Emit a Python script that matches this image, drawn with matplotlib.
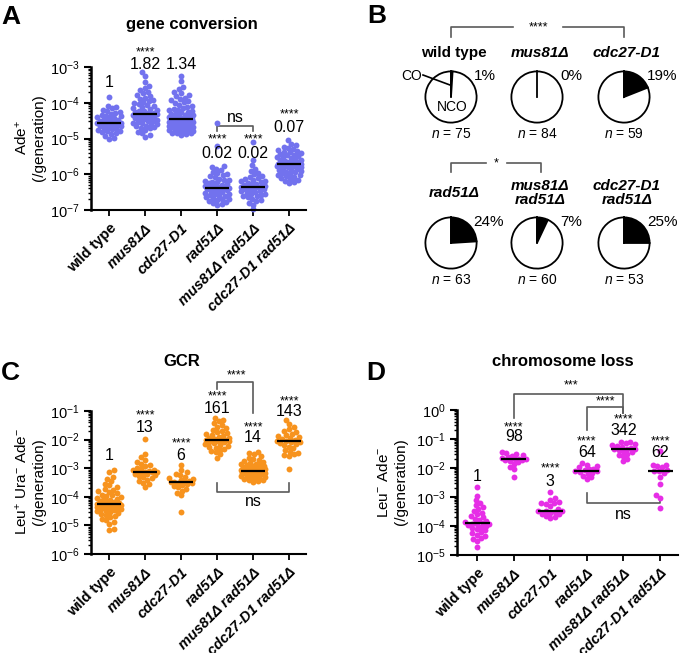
import numpy as np
import matplotlib
matplotlib.use('Agg')
import matplotlib.pyplot as plt
from matplotlib.ticker import LogLocator, FuncFormatter, NullFormatter, FixedLocator

plt.rcParams.update({
    'font.family': ['Liberation Sans', 'DejaVu Sans'],
    'mathtext.fontset': 'custom',
    'mathtext.rm': 'Liberation Sans',
    'mathtext.it': 'Liberation Sans:italic',
    'mathtext.bf': 'Liberation Sans:bold',
    'mathtext.default': 'regular',
})

# ---------------- data ----------------
categories = ['wild type', 'mus81Δ', 'cdc27-D1', 'rad51Δ', 'mus81Δ rad51Δ', 'cdc27-D1 rad51Δ']

# Panel A: gene conversion, log10(Ade+ / generation)
geneconv_wt = [-5.00,-4.98,-4.92,-4.88,-4.85,-4.82,-4.80,-4.78,-4.76,-4.74,-4.72,-4.70,-4.68,-4.66,-4.65,-4.63,-4.62,-4.60,-4.59,-4.58,-4.57,-4.56,-4.55,-4.53,-4.52,-4.50,-4.48,-4.46,-4.44,-4.42,-4.40,-4.38,-4.36,-4.34,-4.31,-4.28,-4.25,-4.22,-4.19,-4.16,-4.12,-4.08,-3.84]
geneconv_mus81 = [-4.96,-4.90,-4.86,-4.82,-4.76,-4.72,-4.70,-4.68,-4.65,-4.64,-4.62,-4.60,-4.58,-4.56,-4.54,-4.52,-4.50,-4.48,-4.46,-4.44,-4.42,-4.40,-4.38,-4.37,-4.35,-4.34,-4.33,-4.32,-4.31,-4.30,-4.28,-4.26,-4.24,-4.22,-4.20,-4.18,-4.16,-4.13,-4.10,-4.07,-4.04,-4.01,-3.98,-3.95,-3.92,-3.89,-3.86,-3.82,-3.78,-3.74,-3.70,-3.65,-3.60,-3.52,-3.42,-3.25,-3.15]
geneconv_cdc27 = [-4.90,-4.88,-4.86,-4.85,-4.84,-4.82,-4.81,-4.80,-4.78,-4.77,-4.76,-4.74,-4.73,-4.72,-4.70,-4.69,-4.68,-4.66,-4.65,-4.64,-4.62,-4.61,-4.60,-4.58,-4.57,-4.56,-4.55,-4.54,-4.53,-4.52,-4.51,-4.50,-4.49,-4.48,-4.47,
                  -4.45,-4.44,-4.42,-4.41,-4.40,-4.38,-4.36,-4.35,-4.33,-4.31,-4.29,-4.27,-4.25,-4.23,-4.21,-4.19,-4.17,-4.14,-4.11,-4.08,-4.05,-4.02,-3.99,-3.96,-3.93,-3.90,-3.86,-3.82,-3.78,-3.74,-3.70,-3.62,-3.55,-3.38,-3.25]
geneconv_rad51 = [-6.87,-6.84,-6.80,-6.78,-6.75,-6.72,-6.70,-6.68,-6.66,-6.64,-6.62,-6.60,-6.58,-6.56,-6.54,-6.52,-6.50,-6.48,-6.46,-6.44,-6.42,-6.41,-6.40,-6.39,-6.38,-6.37,-6.35,-6.33,-6.31,-6.29,-6.27,-6.25,-6.23,-6.21,-6.19,-6.17,-6.15,-6.12,-6.09,-6.06,-6.03,-6.00,-5.97,-5.93,-5.88,-5.84,-5.80,-5.78,-5.20,-4.57]
geneconv_mus81_rad51 = [-6.98,-6.85,-6.80,-6.75,-6.71,-6.68,-6.65,-6.62,-6.60,-6.58,-6.56,-6.54,-6.52,-6.50,-6.48,-6.46,-6.44,-6.42,-6.40,-6.38,-6.37,-6.36,-6.35,-6.34,-6.32,-6.30,-6.28,-6.26,-6.24,-6.22,-6.20,-6.18,-6.16,-6.13,-6.10,-6.07,-6.04,-6.00,-5.96,-5.90,-5.84,-5.74,-5.60,-5.10]
geneconv_cdc27_rad51 = [-6.25,-6.22,-6.18,-6.15,-6.12,-6.10,-6.08,-6.05,-6.03,-6.01,-5.99,-5.97,-5.95,-5.93,-5.91,-5.89,-5.87,-5.85,-5.83,-5.81,-5.80,-5.78,-5.77,-5.76,-5.75,-5.74,-5.73,-5.72,-5.71,-5.70,-5.69,-5.68,-5.67,-5.66,-5.65,-5.63,-5.61,-5.59,-5.57,-5.55,-5.53,-5.51,-5.49,-5.47,-5.45,-5.43,-5.41,-5.39,-5.37,-5.35,-5.32,-5.29,-5.26,-5.23,-5.19,-5.15,-5.04]
geneconv_ratio = ['1', '1.82', '1.34', '0.02', '0.02', '0.07']
geneconv_stars = ['', '****', '', '****', '****', '****']

# Panel C: GCR, log10(Leu+ Ura- Ade- / generation)
gcr_wt = [-5.16,-5.12,-4.95,-4.88,-4.82,-4.76,-4.72,-4.68,-4.64,-4.60,-4.57,-4.54,-4.51,-4.48,-4.46,-4.44,-4.42,-4.40,-4.38,-4.36,-4.34,-4.32,-4.30,-4.28,-4.27,-4.26,-4.25,-4.24,-4.22,-4.20,-4.18,-4.16,-4.14,-4.12,-4.10,-4.07,-4.04,-4.01,-3.98,-3.95,-3.92,-3.88,-3.84,-3.80,-3.76,-3.72,-3.66,-3.60,-3.54,-3.45,-3.38,-3.30,-3.12,-3.06]
gcr_mus81 = [-3.65,-3.55,-3.50,-3.45,-3.40,-3.36,-3.32,-3.28,-3.25,-3.22,-3.19,-3.17,-3.15,-3.14,-3.13,-3.12,-3.10,-3.08,-3.05,-3.02,-2.98,-2.94,-2.90,-2.85,-2.80,-2.72,-2.62,-2.50,-1.98]
gcr_cdc27 = [-4.53,-3.95,-3.85,-3.78,-3.72,-3.66,-3.62,-3.58,-3.55,-3.52,-3.50,-3.49,-3.48,-3.46,-3.44,-3.41,-3.38,-3.34,-3.30,-3.25,-3.20,-3.15,-3.08,-2.90]
gcr_rad51 = [-2.65,-2.52,-2.45,-2.40,-2.36,-2.32,-2.28,-2.25,-2.22,-2.19,-2.16,-2.13,-2.10,-2.08,-2.06,-2.04,-2.03,-2.02,-2.01,-2.00,-1.98,-1.96,-1.94,-1.91,-1.88,-1.85,-1.82,-1.78,-1.74,-1.70,-1.66,-1.60,-1.55,-1.48,-1.42,-1.35,-1.30,-1.25]
gcr_mus81_rad51 = [-3.48,-3.45,-3.42,-3.40,-3.38,-3.36,-3.34,-3.32,-3.30,-3.28,-3.26,-3.24,-3.22,-3.20,-3.19,-3.18,-3.17,-3.16,-3.15,-3.14,-3.13,-3.12,-3.11,-3.10,-3.09,-3.08,-3.07,-3.06,-3.05,-3.04,-3.02,-3.00,-2.98,-2.96,-2.94,-2.92,-2.90,-2.88,-2.86,-2.84,-2.81,-2.78,-2.75,-2.72,-2.68,-2.64,-2.58,-2.52,-2.46,-2.43]
gcr_cdc27_rad51 = [-3.04,-2.58,-2.55,-2.52,-2.48,-2.42,-2.36,-2.30,-2.25,-2.20,-2.16,-2.12,-2.10,-2.08,-2.06,-2.04,-2.01,-1.98,-1.95,-1.92,-1.88,-1.84,-1.80,-1.75,-1.70,-1.62,-1.55,-1.45,-1.32]
gcr_ratio = ['1', '13', '6', '161', '14', '143']
gcr_stars = ['', '****', '****', '****', '****', '****']

# Panel D: chromosome loss, log10(Leu- Ade- / generation)
loss_wt = [-4.72,-4.52,-4.45,-4.40,-4.35,-4.30,-4.25,-4.20,-4.15,-4.10,-4.06,-4.02,-3.99,-3.96,-3.94,-3.93,-3.92,-3.90,-3.87,-3.84,-3.80,-3.75,-3.70,-3.65,-3.60,-3.54,-3.48,-3.42,-3.35,-3.28,-3.20,-3.10,-2.95,-2.66]
loss_mus81 = [-2.31,-2.05,-1.95,-1.85,-1.80,-1.76,-1.73,-1.71,-1.70,-1.69,-1.68,-1.66,-1.63,-1.60,-1.56,-1.52,-1.48,-1.45]
loss_cdc27 = [-3.72,-3.68,-3.64,-3.60,-3.57,-3.54,-3.51,-3.49,-3.48,-3.47,-3.40,-3.32,-3.25,-3.22,-3.20,-3.18,-3.10,-3.05,-2.83]
loss_rad51 = [-2.38,-2.32,-2.26,-2.20,-2.16,-2.13,-2.11,-2.10,-2.08,-2.05,-2.02,-1.98,-1.94,-1.88,-1.83]
loss_mus81_rad51 = [-1.76,-1.68,-1.60,-1.55,-1.50,-1.46,-1.42,-1.38,-1.36,-1.35,-1.33,-1.30,-1.27,-1.24,-1.21,-1.18,-1.15,-1.12,-1.10]
loss_cdc27_rad51 = [-3.38,-3.02,-2.92,-2.55,-2.30,-2.18,-2.12,-2.10,-2.06,-1.98,-1.93,-1.90,-1.88,-1.41]
loss_ratio = ['1', '98', '3', '64', '342', '62']
loss_stars = ['', '****', '****', '****', '****', '****']

# Panel B: crossover percentages
pie_genotypes = ['wild type', 'mus81Δ', 'cdc27-D1', 'rad51Δ', 'mus81Δ\nrad51Δ', 'cdc27-D1\nrad51Δ']
pie_co_pct = [1, 0, 19, 24, 7, 25]
pie_n = [75, 84, 59, 63, 60, 53]

# ---------------- layout ----------------
W, H = 684, 653
fig = plt.figure(figsize=(W / 100, H / 100), dpi=100)


def rect(x0, y0, x1, y1):
    return [x0 / W, 1 - y1 / H, (x1 - x0) / W, (y1 - y0) / H]


def fig_xy(x, y):
    return x / W, 1 - y / H


def swarm_x(ax, i, logv, diam=4.6, maxhalf=12.0):
    logv = np.asarray(logv, float)
    cx = ax.transData.transform((i, 1.0))[0]
    order = np.argsort(logv)
    placed = np.empty((0, 2))
    xs = np.empty(len(logv))
    steps = np.arange(0.5, maxhalf + 0.01, 0.5)
    for n, j in enumerate(order):
        py = ax.transData.transform((i, 10 ** logv[j]))[1]
        sgn = (1, -1) if n % 2 else (-1, 1)
        offs = [0.0] + [s * k for k in steps for s in sgn]
        best, bestd, bestpx = None, -1, cx
        for o in offs:
            px = cx + o
            if len(placed):
                d = np.min(np.hypot(placed[:, 0] - px, placed[:, 1] - py))
            else:
                d = 1e9
            if d >= diam:
                best = px
                break
            if d > bestd:
                bestd, bestpx = d, px
        if best is None:
            best = bestpx
        placed = np.vstack([placed, [best, py]])
        xs[j] = ax.transData.inverted().transform((best, py))[0]
    return xs


def style_axis(ax, ylo, yhi, xlim):
    ax.set_yscale('log')
    ax.set_ylim(10.0 ** ylo, 10.0 ** yhi)
    ax.set_xlim(*xlim)
    for s in ('top', 'right'):
        ax.spines[s].set_visible(False)
    ax.spines['left'].set_linewidth(1.8)
    ax.spines['bottom'].set_linewidth(1.5)
    ax.yaxis.set_major_locator(FixedLocator([10.0 ** e for e in range(ylo, yhi + 1)]))
    ax.yaxis.set_minor_locator(LogLocator(base=10, subs=np.arange(2, 10), numticks=20))
    ax.yaxis.set_minor_formatter(NullFormatter())
    ax.yaxis.set_major_formatter(FuncFormatter(lambda v, p: r'$10^{%d}$' % int(round(np.log10(v)))))
    ax.tick_params(axis='y', which='major', length=5, width=1.5, labelsize=10.5, pad=3)
    ax.tick_params(axis='y', which='minor', length=2.5, width=1.0)
    ax.tick_params(axis='x', which='major', length=4, width=1.3, pad=4)
    ax.set_xticks(range(len(categories)))
    labs = ax.set_xticklabels(categories, rotation=45, ha='right', va='top',
                              rotation_mode='anchor', fontweight='bold', fontsize=10.5)
    for k, t in enumerate(labs):
        if k > 0:
            t.set_fontstyle('italic')


def draw_panel(ax, groups, color, ratios, stars, ratio_y, star_y):
    for i, g in enumerate(groups):
        xs = swarm_x(ax, i, g)
        ax.scatter(xs, 10.0 ** np.asarray(g), s=18, color=color, linewidths=0, zorder=2, clip_on=False)
        ax.hlines(10.0 ** np.median(g), i - 0.34, i + 0.34, color='black', lw=1.6, zorder=3)
        ax.text(i, 10.0 ** ratio_y[i], ratios[i], ha='center', va='center', fontsize=11.5, zorder=4)
        if stars[i]:
            ax.text(i, 10.0 ** star_y[i], stars[i], ha='center', va='center', fontsize=9, zorder=4)


def bracket(ax, x0, x1, ytop, y0end, y1end, color='#5a5a5a'):
    ax.plot([x0, x0, x1, x1], [10.0 ** y0end, 10.0 ** ytop, 10.0 ** ytop, 10.0 ** y1end],
            color=color, lw=1.2, clip_on=False, zorder=1)


# ---- Panel A ----
axA = fig.add_axes(rect(91, 67, 306, 210))
style_axis(axA, -7, -3, (-0.5, 5.47))
draw_panel(axA, [geneconv_wt, geneconv_mus81, geneconv_cdc27, geneconv_rad51, geneconv_mus81_rad51, geneconv_cdc27_rad51],
           '#7272ee', geneconv_ratio, geneconv_stars,
           [-3.42, -2.94, -2.94, -5.41, -5.41, -4.68], [0, -2.58, 0, -5.04, -5.04, -4.34])
bracket(axA, 3, 4, -4.65, -4.79, -4.79)
axA.text(3.5, 10 ** -4.40, 'ns', ha='center', va='center', fontsize=11.5)

# ---- Panel C ----
axC = fig.add_axes(rect(91, 411, 306, 554))
style_axis(axC, -6, -1, (-0.5, 5.47))
draw_panel(axC, [gcr_wt, gcr_mus81, gcr_cdc27, gcr_rad51, gcr_mus81_rad51, gcr_cdc27_rad51],
           '#f7931e', gcr_ratio, gcr_stars,
           [-2.57, -1.56, -2.57, -0.90, -1.94, -1.03], [0, -1.14, -2.12, -0.48, -1.56, -0.65])
bracket(axC, 3, 4, 0.0, -0.23, -1.07)
axC.text(3.53, 10 ** 0.26, '****', ha='center', va='center', fontsize=9)
bracket(axC, 3, 5, -3.83, -3.52, -3.52)
axC.text(4, 10 ** -4.15, 'ns', ha='center', va='center', fontsize=11.5)

# ---- Panel D ----
axD = fig.add_axes(rect(457, 410, 678, 555))
style_axis(axD, -5, 0, (-0.55, 5.49))
draw_panel(axD, [loss_wt, loss_mus81, loss_cdc27, loss_rad51, loss_mus81_rad51, loss_cdc27_rad51],
           '#e62ee6', loss_ratio, loss_stars,
           [-2.31, -0.93, -2.48, -1.48, -0.72, -1.48], [0, -0.59, -2.0, -1.07, -0.34, -1.07])
bracket(axD, 1, 4, 0.55, -0.28, -0.10)
axD.text(2.57, 10 ** 0.83, '***', ha='center', va='center', fontsize=9)
bracket(axD, 3, 4, 0.10, -0.69, -0.10)
axD.text(3.5, 10 ** 0.31, '****', ha='center', va='center', fontsize=9)
bracket(axD, 3, 5, -3.21, -2.86, -3.00)
axD.text(4, 10 ** -3.59, 'ns', ha='center', va='center', fontsize=11.5)

# ---- titles, y labels, panel letters ----
for txt, (x, y) in [('gene conversion', (192, 25)), ('GCR', (182, 362)), ('chromosome loss', (563, 362))]:
    fig.text(*fig_xy(x, y), txt, ha='center', va='center', fontsize=12, fontweight='bold')
for txt, (x, y) in [('Ade$^{+}$\n(/generation)', (30, 138)),
                    ('Leu$^{+}$ Ura$^{-}$ Ade$^{-}$\n(/generation)', (30, 482)),
                    ('Leu$^{-}$ Ade$^{-}$\n(/generation)', (392, 482))]:
    fig.text(*fig_xy(x, y), txt, ha='center', va='center', rotation=90, fontsize=11, linespacing=1.25,
             multialignment='center')
for txt, (x, y) in [('A', (1, 17)), ('B', (367, 16)), ('C', (1, 373)), ('D', (366, 373))]:
    fig.text(*fig_xy(x, y), txt, ha='left', va='center', fontsize=19, fontweight='bold')

# ---- Panel B: pies ----
pie_cx = [451, 537, 624, 451, 537, 624]
pie_cy = [97, 97, 97, 243, 243, 243]
for k in range(6):
    cx, cy = pie_cx[k], pie_cy[k]
    axp = fig.add_axes(rect(cx - 32, cy - 32, cx + 32, cy + 32))
    axp.pie([pie_co_pct[k], 100 - pie_co_pct[k]], colors=['black', 'white'], startangle=90,
            counterclock=False, radius=1, wedgeprops=dict(edgecolor='black', linewidth=1.3))
    # wedge boundary at 12 o'clock (visible even when the CO share is 0%)
    axp.plot([0, 0], [0, 1], color='black', lw=1.3)
    axp.set_xlim(-1.25, 1.25)
    axp.set_ylim(-1.25, 1.25)
    axp.set_aspect('equal')
    axp.axis('off')

axB = fig.add_axes(rect(340, 0, 684, 330))
axB.set_xlim(340, 684)
axB.set_ylim(330, 0)
axB.axis('off')
axB.patch.set_alpha(0)
for k in range(6):
    cx, cy = pie_cx[k], pie_cy[k]
    style = 'normal' if k == 0 else 'italic'
    gy = cy - 44 if k < 3 else cy - 50
    axB.text(cx + 3, gy, pie_genotypes[k], ha='center', va='center', fontsize=11, fontweight='bold',
             fontstyle=style, linespacing=1.05)
    axB.text(cx + 34 + (4 if pie_co_pct[k] >= 10 else 0), cy - 21, '%d%%' % pie_co_pct[k],
             ha='center', va='center', fontsize=11)
    axB.text(cx, cy + 37, r'$\mathit{n}$ = %d' % pie_n[k], ha='center', va='center', fontsize=10)
axB.text(412, 76, 'CO', ha='center', va='center', fontsize=10)
axB.plot([423, 450], [75, 85], color='black', lw=1.2)
axB.text(452, 107, 'NCO', ha='center', va='center', fontsize=10)
# significance brackets
axB.plot([pie_cx[0], pie_cx[0], 513], [37, 27, 27], color='#5a5a5a', lw=1.2)
axB.plot([563, pie_cx[2], pie_cx[2]], [27, 27, 37], color='#5a5a5a', lw=1.2)
axB.text(538, 27, '****', ha='center', va='center', fontsize=9)
axB.plot([pie_cx[3], pie_cx[3], 486], [172, 163, 163], color='#5a5a5a', lw=1.2)
axB.plot([507, pie_cx[4] + 4, pie_cx[4] + 4], [163, 163, 172], color='#5a5a5a', lw=1.2)
axB.text(496, 163, '*', ha='center', va='center', fontsize=9)

fig.savefig('out.png', dpi=100)
